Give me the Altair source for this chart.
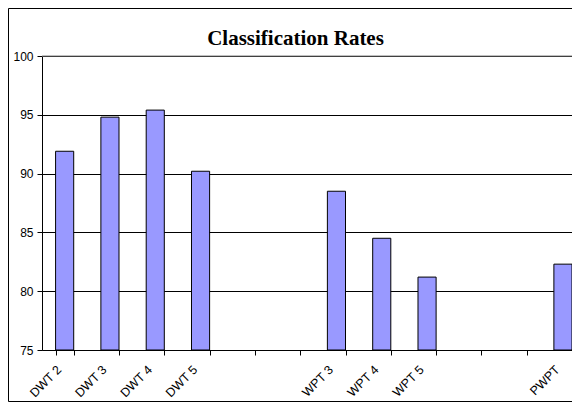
import altair as alt
import pandas as pd

categories = ["DWT 2", "DWT 3", "DWT 4", "DWT 5", "gap1", "gap2",
              "WPT 3", "WPT 4", "WPT 5", "gap3", "gap4", "PWPT"]
bar_labels = ["DWT 2", "DWT 3", "DWT 4", "DWT 5", "WPT 3", "WPT 4", "WPT 5", "PWPT"]
rates = [91.9, 94.8, 95.4, 90.2, 88.5, 84.5, 81.2, 82.3]
y_ticks = [75, 80, 85, 90, 95, 100]
title_text = "Classification Rates"

df = pd.DataFrame({"method": bar_labels, "rate": rates})

xscale = alt.Scale(domain=categories, range=[0, 543.6], paddingInner=0.6, paddingOuter=0.3)
yscale = alt.Scale(domain=[75, 100], zero=False, nice=False)

bars = alt.Chart(df).mark_bar(fill="#9999FF", stroke="#000000", strokeWidth=1).encode(
    x=alt.X("method:N", scale=xscale, sort=categories,
            axis=alt.Axis(title=None, labelAngle=-45, labelAlign="right", labelBaseline="top",
                          labelFont="Liberation Sans", labelFontSize=12.5, labelColor="black",
                          labelPadding=8, labelOffset=-10, labelOverlap=False,
                          tickBand="extent", tickSize=5, tickColor="black",
                          domainColor="black", grid=False,
                          labelExpr="indexof(datum.label, 'gap') == 0 ? '' : datum.label")),
    y=alt.Y("rate:Q", scale=yscale,
            axis=alt.Axis(title=None, values=y_ticks, grid=True, gridColor="black",
                          gridOpacity=1, labelFont="Liberation Sans", labelFontSize=12,
                          labelColor="black", labelPadding=4, tickSize=5, tickColor="black",
                          domainColor="black", format="d")),
    y2=alt.datum(75),
)

top_line = alt.Chart(pd.DataFrame({"v": [100]})).mark_rule(color="#808080", strokeWidth=1).encode(
    y=alt.Y("v:Q", scale=yscale)
)

frame = alt.Chart(pd.DataFrame({"a": [0]})).mark_rect(
    fillOpacity=0, stroke="black", strokeWidth=1
).encode(
    x=alt.value(-33.5), x2=alt.value(600), y=alt.value(-47.5), y2=alt.value(345.5)
)

title = alt.Chart(pd.DataFrame({"t": [title_text]})).mark_text(
    font="Liberation Serif", fontSize=21, fontWeight="bold", align="center",
    baseline="alphabetic", color="black"
).encode(text="t:N", x=alt.value(253.5), y=alt.value(-11.5))

chart = alt.layer(frame, bars, top_line, title).properties(
    width=530, height=294,
    autosize=alt.AutoSizeParams(type="none"),
    padding={"left": 34, "top": 48, "right": 0, "bottom": 52},
).configure_view(stroke=None)

chart.save("out.html", embed_options={"renderer": "svg", "actions": False})
